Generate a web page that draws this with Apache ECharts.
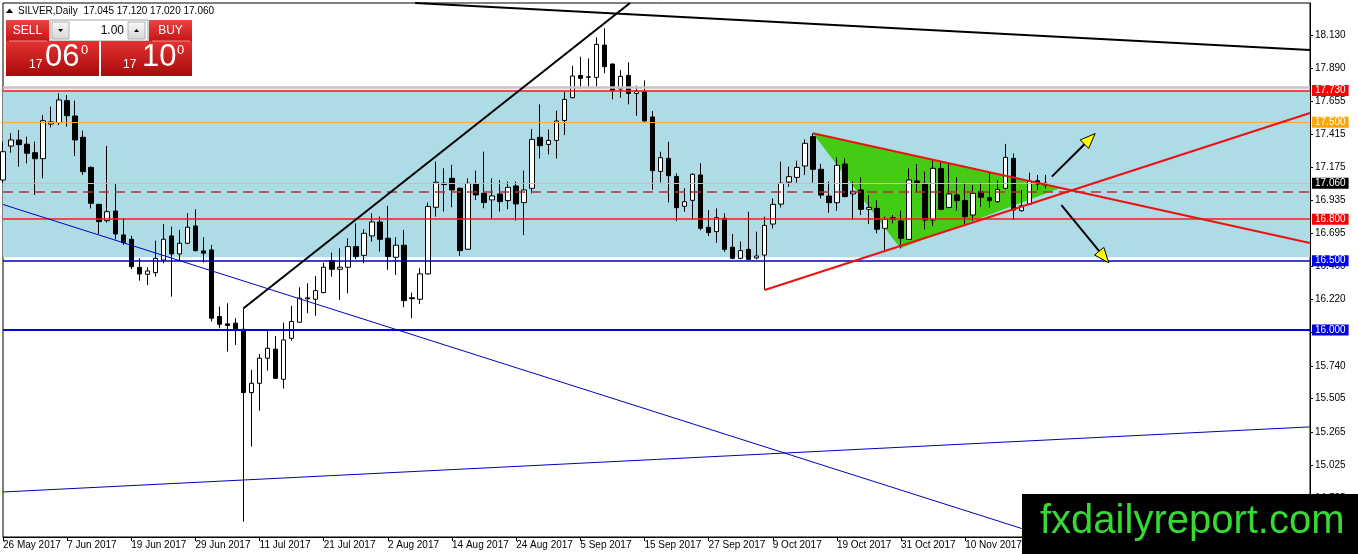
<!DOCTYPE html>
<html>
<head>
<meta charset="utf-8">
<title>SILVER,Daily</title>
<script src="https://cdn.jsdelivr.net/npm/echarts@6/dist/echarts.min.js"></script>
<style>
html,body{margin:0;padding:0;background:#fff;}
#SilverDaily{width:1358px;height:554px;}
</style>
</head>
<body>
<div id="SilverDaily"></div>
<script>
// daily bars 26 May 2017 .. 24 Nov 2017
var open = [17.083,17.328,17.372,17.341,17.28,17.237,17.487,17.497,17.656,17.545,
	17.391,17.174,16.907,16.789,16.859,16.686,16.655,16.452,16.402,16.414,
	16.505,16.679,16.549,16.626,16.751,16.571,16.578,16.097,16.044,16.049,
	16.005,15.548,15.615,15.796,15.861,15.644,15.94,16.056,16.225,16.222,
	16.27,16.501,16.438,16.453,16.602,16.539,16.679,16.78,16.662,16.525,
	16.612,16.232,16.222,16.405,16.886,17.059,17.095,17.023,16.583,17.054,
	16.987,16.939,16.982,16.934,17.04,16.92,17.023,17.391,17.34,17.369,
	17.513,17.677,17.838,17.824,17.824,18.057,17.92,17.74,17.838,17.708,
	17.72,17.538,17.145,17.239,17.109,16.893,16.936,17.119,16.741,16.71,
	16.806,16.597,16.517,16.582,16.52,16.541,16.765,16.909,17.068,17.102,
	17.184,17.396,17.16,16.967,16.919,17.198,16.982,17.011,16.871,16.878,
	16.734,16.81,16.787,16.654,17.076,17.054,16.794,17.165,16.885,16.975,
	16.934,16.83,16.999,16.955,16.926,17.023,17.239,16.861,16.909,17.078,
	17.045];
var high = [17.36,17.42,17.444,17.396,17.36,17.552,17.612,17.709,17.697,17.656,
	17.439,17.18,16.91,17.329,17.054,16.806,16.68,16.517,16.452,16.645,
	16.765,16.746,16.722,16.843,16.872,16.669,16.614,16.169,16.193,16.085,
	16.157,15.712,15.827,16.005,15.957,16.053,16.174,16.308,16.337,16.39,
	16.486,16.559,16.59,16.662,16.77,16.727,16.843,16.819,16.896,16.669,
	16.722,16.27,16.446,16.92,17.216,17.168,17.192,17.03,17.095,17.151,
	17.288,17.095,17.083,17.071,17.071,17.151,17.451,17.629,17.448,17.583,
	17.72,17.908,17.973,17.961,18.113,18.178,17.925,17.877,17.932,17.764,
	17.802,17.581,17.287,17.359,17.131,17.023,17.131,17.203,16.866,16.878,
	16.842,16.693,16.638,16.854,16.71,16.818,16.95,17.215,17.179,17.222,
	17.376,17.42,17.2,17.071,17.246,17.239,17.071,17.102,16.974,16.938,
	16.818,16.83,16.861,17.167,17.198,17.143,17.222,17.222,17.203,17.102,
	17.064,17.047,17.064,17.136,17.083,17.343,17.275,17.011,17.136,17.119,
	17.12];
var low = [17.061,17.28,17.179,17.203,16.975,17.095,17.463,17.48,17.468,17.256,
	17.12,16.878,16.693,16.775,16.655,16.614,16.438,16.356,16.325,16.385,
	16.481,16.241,16.494,16.62,16.566,16.487,16.061,16.012,15.844,15.892,
	14.616,15.158,15.418,15.707,15.645,15.577,15.923,16.053,16.121,16.102,
	16.265,16.385,16.217,16.265,16.511,16.482,16.638,16.566,16.434,16.398,
	16.164,16.085,16.188,16.4,16.819,16.855,16.886,16.535,16.578,16.939,
	16.879,16.8,16.855,16.872,16.79,16.686,16.986,17.239,17.268,17.239,
	17.408,17.672,17.74,17.757,17.759,17.853,17.665,17.677,17.629,17.547,
	17.504,17.013,17.066,16.921,16.787,16.854,16.794,16.72,16.678,16.63,
	16.565,16.51,16.51,16.505,16.51,16.289,16.734,16.885,17.035,17.064,
	17.119,17.064,16.95,16.847,16.861,16.958,16.799,16.83,16.765,16.698,
	16.573,16.77,16.589,16.65,16.991,16.727,16.751,16.866,16.878,16.861,
	16.751,16.789,16.89,16.885,16.919,17.015,16.794,16.854,16.902,17.011,
	17.02];
var close = [17.287,17.372,17.338,17.276,17.237,17.511,17.502,17.661,17.547,17.372,
	17.143,16.915,16.782,16.854,16.693,16.63,16.457,16.404,16.426,16.517,
	16.655,16.549,16.626,16.742,16.573,16.554,16.085,16.041,16.032,16.0,
	15.548,15.615,15.796,15.868,15.651,15.928,16.061,16.229,16.232,16.284,
	16.453,16.438,16.453,16.602,16.53,16.698,16.78,16.655,16.53,16.612,
	16.212,16.226,16.405,16.891,17.067,17.05,17.011,16.573,17.059,16.975,
	16.92,16.968,16.927,17.03,16.91,17.011,17.376,17.331,17.369,17.509,
	17.665,17.834,17.817,17.828,18.062,17.901,17.73,17.831,17.708,17.723,
	17.509,17.15,17.244,17.114,16.883,16.926,17.124,16.734,16.703,16.811,
	16.582,16.517,16.573,16.51,16.534,16.755,16.907,17.059,17.107,17.174,
	17.348,17.16,16.974,16.919,17.189,16.963,17.001,16.871,16.885,16.727,
	16.799,16.797,16.662,17.083,17.059,16.794,17.167,16.871,16.982,16.934,
	16.818,16.987,16.958,16.934,17.015,17.246,16.866,16.897,17.076,17.054,
	17.06];

var firstDay = [2017, 4, 26];     // 26 May 2017
var slotCount = 164;              // bars plus the empty shift area on the right
var labelStep = 8;
var lastLabelSlot = 120;

var yTicks = [18.130,17.890,17.655,17.415,17.175,16.935,16.695,16.460,16.220,15.980,15.740,15.505,15.265,15.025,14.785];
var yMin = 14.505, yMax = 18.361;

// horizontal levels with price boxes
var levelPrices = [17.73, 17.50, 17.06, 16.80, 16.50, 16.00];
var levelLabels = ['17.730','17.500','17.060','16.800','16.500','16.000'];
var dashedLevel = 17.005;
var silverLevel = 17.748;
var zoneTop = 17.735, zoneBottom = 16.525;

// drawn objects, [bar index, price]
var resistanceLine = [[51.4, 18.361], [163, 18.022]];
var channelLine = [[30, 16.157], [78.2, 18.361]];
var fallingLine = [[0, 16.906], [135, 14.42]];
var risingLine = [[0, 14.83], [163, 15.30]];
var triangleTop = [[101, 17.42], [163, 16.628]];
var triangleBottom = [[95, 16.289], [163, 17.567]];
var triangleFill = [[101, 17.42], [111.9, 16.59], [131.8, 17.023]];
var arrows = [[130.8, 17.107, 136.2, 17.418], [132.0, 16.901, 137.9, 16.485]];

var header = 'SILVER,Daily  17.045 17.120 17.020 17.060';

var months = ['Jan','Feb','Mar','Apr','May','Jun','Jul','Aug','Sep','Oct','Nov','Dec'];
var dates = [];
var d = new Date(firstDay[0], firstDay[1], firstDay[2]);
while (dates.length < slotCount) {
	if (d.getDay() !== 0 && d.getDay() !== 6) {
		dates.push(d.getDate() + ' ' + months[d.getMonth()] + ' ' + d.getFullYear());
	}
	d.setDate(d.getDate() + 1);
}

var candles = open.map(function (o, i) {
	return [o, close[i], low[i], high[i]];
});

var levelStyles = [
	{line: '#ff1a1a', box: '#ff0000', w: 1.5},
	{line: '#f0b030', box: '#ffa500', w: 1},
	{line: '#c8bcbc', box: '#000000', w: 1},
	{line: '#ff1a1a', box: '#ff0000', w: 1.5},
	{line: '#0000c8', box: '#0000ff', w: 1.5},
	{line: '#0000e0', box: '#0000e0', w: 2}
];

var levelData = levelPrices.map(function (p, i) {
	return {
		yAxis: p,
		lineStyle: {color: levelStyles[i].line, width: levelStyles[i].w, type: 'solid'},
		label: {
			show: true, position: 'end', distance: 2,
			formatter: levelLabels[i],
			color: '#fff', backgroundColor: levelStyles[i].box,
			padding: [1, 3, 0, 3], fontSize: 10, fontFamily: 'Liberation Sans'
		}
	};
});
levelData.push({yAxis: silverLevel, lineStyle: {color: '#c4c4c4', width: 2.5, type: 'solid'}, label: {show: false}});
levelData.push({yAxis: dashedLevel, lineStyle: {color: '#b83030', width: 1.5, type: [10, 6]}, label: {show: false}});

function trend(name, pts, color, width) {
	return {
		name: name, type: 'line', xAxisIndex: 1, data: pts,
		showSymbol: false, silent: true, z: 6,
		lineStyle: {color: color, width: width}
	};
}

var redGrad = function (a, b) {
	return new echarts.graphic.LinearGradient(0, 0, 0, 1, [{offset: 0, color: a}, {offset: 1, color: b}]);
};
var grayGrad = new echarts.graphic.LinearGradient(0, 0, 0, 1, [{offset: 0, color: '#f8f8f8'}, {offset: 1, color: '#d6d6d6'}]);

var myChart = echarts.init(document.getElementById('SilverDaily'));

var showSlot = function (i) {
	return i % labelStep === 0 && i <= lastLabelSlot;
};

var option = {
	animation: false,
	backgroundColor: '#fff',
	textStyle: {fontFamily: 'Liberation Sans'},
	grid: {left: 3, right: 48, top: 3, bottom: 17, show: true, borderColor: '#000', borderWidth: 1},
	xAxis: [{
		type: 'category',
		data: dates,
		boundaryGap: false,
		axisLine: {onZero: false, lineStyle: {color: '#000'}},
		axisTick: {interval: showSlot, length: 4, lineStyle: {color: '#000'}},
		axisLabel: {interval: showSlot, align: 'left', margin: 3, fontSize: 10, color: '#000'},
		splitLine: {show: false}
	}, {
		type: 'value', min: 0, max: slotCount - 1, show: false,
		axisLine: {onZero: false}
	}],
	yAxis: {
		type: 'value',
		position: 'right',
		min: yMin,
		max: yMax,
		axisLine: {show: true, onZero: false, lineStyle: {color: '#000'}},
		axisTick: {show: true, inside: false, length: 3, customValues: yTicks, lineStyle: {color: '#000'}},
		axisLabel: {
			customValues: yTicks, margin: 5, fontSize: 10, color: '#000',
			formatter: function (v) { return v.toFixed(3); }
		},
		splitLine: {show: false}
	},
	series: [
		{
			name: 'zone', type: 'line', data: [], z: 1, silent: true,
			markArea: {
				silent: true,
				itemStyle: {color: '#aedce6'},
				data: [[{yAxis: zoneTop}, {yAxis: zoneBottom}]]
			}
		},
		{
			name: 'triangle', type: 'custom', xAxisIndex: 1, z: 2, silent: true,
			data: [triangleFill[0]],
			renderItem: function (params, api) {
				var pts = triangleFill.map(function (p) { return api.coord(p); });
				return {type: 'polygon', shape: {points: pts}, style: {fill: '#44cc14'}};
			}
		},
		{
			name: 'SILVER', type: 'candlestick', data: candles, z: 3,
			barWidth: 5,
			emphasis: {disabled: true},
			itemStyle: {color: '#fff', color0: '#000', borderColor: '#000', borderColor0: '#000', borderWidth: 1}
		},
		{
			name: 'levels', type: 'line', data: [], z: 4, silent: true,
			markLine: {silent: true, symbol: 'none', data: levelData}
		},
		trend('resistance', resistanceLine, '#000', 2),
		trend('channel', channelLine, '#000', 2),
		trend('falling', fallingLine, '#0000c0', 1),
		trend('rising', risingLine, '#0000c0', 1),
		trend('triTop', triangleTop, '#ee1111', 2),
		trend('triBottom', triangleBottom, '#ee1111', 2),
		{
			name: 'arrows', type: 'custom', xAxisIndex: 1, z: 7, silent: true,
			data: arrows,
			renderItem: function (params, api) {
				var a = api.coord([api.value(0), api.value(1)]);
				var b = api.coord([api.value(2), api.value(3)]);
				var dx = b[0] - a[0], dy = b[1] - a[1];
				var len = Math.sqrt(dx * dx + dy * dy);
				var ux = dx / len, uy = dy / len;
				var hl = 15, hw = 6;
				var bx = b[0] - ux * hl, by = b[1] - uy * hl;
				return {
					type: 'group',
					children: [
						{type: 'line', shape: {x1: a[0], y1: a[1], x2: bx, y2: by}, style: {stroke: '#000', lineWidth: 2}},
						{type: 'polygon', shape: {points: [b, [bx - uy * hw, by + ux * hw], [bx + uy * hw, by - ux * hw]]},
							style: {fill: '#ffff00', stroke: '#000', lineWidth: 1}}
					]
				};
			}
		}
	],
	graphic: [
		// header
		{type: 'polygon', z: 100, shape: {points: [[6, 13], [9.5, 8.5], [13, 13]]}, style: {fill: '#000'}},
		{type: 'text', z: 100, style: {x: 18, y: 11, text: header, fill: '#000', font: '10px "Liberation Sans"', verticalAlign: 'middle'}},
		// one click trading panel
		{type: 'rect', z: 100, shape: {x: 6, y: 20, width: 43, height: 21}, style: {fill: redGrad('#e84444', '#c81414')}},
		{type: 'text', z: 101, style: {x: 27.5, y: 30.5, text: 'SELL', fill: '#fff', font: '12px "Liberation Sans"', align: 'center', verticalAlign: 'middle'}},
		{type: 'rect', z: 100, shape: {x: 50, y: 20, width: 98, height: 21}, style: {fill: '#fff', stroke: '#a0a0a0', lineWidth: 1}},
		{type: 'rect', z: 101, shape: {x: 52, y: 22, width: 17, height: 17}, style: {fill: grayGrad, stroke: '#b0b0b0', lineWidth: 1}},
		{type: 'polygon', z: 102, shape: {points: [[58, 29], [63, 29], [60.5, 32]]}, style: {fill: '#000'}},
		{type: 'text', z: 101, style: {x: 124, y: 30.5, text: '1.00', fill: '#000', font: '12px "Liberation Sans"', align: 'right', verticalAlign: 'middle'}},
		{type: 'rect', z: 101, shape: {x: 128, y: 22, width: 17, height: 17}, style: {fill: grayGrad, stroke: '#b0b0b0', lineWidth: 1}},
		{type: 'polygon', z: 102, shape: {points: [[134, 32], [139, 32], [136.5, 29]]}, style: {fill: '#000'}},
		{type: 'rect', z: 100, shape: {x: 149, y: 20, width: 43, height: 21}, style: {fill: redGrad('#e84444', '#c81414')}},
		{type: 'text', z: 101, style: {x: 170.5, y: 30.5, text: 'BUY', fill: '#fff', font: '12px "Liberation Sans"', align: 'center', verticalAlign: 'middle'}},
		{type: 'rect', z: 100, shape: {x: 6, y: 41, width: 93, height: 35}, style: {fill: redGrad('#e43232', '#a80a0a')}},
		{type: 'rect', z: 100, shape: {x: 101, y: 41, width: 91, height: 35}, style: {fill: redGrad('#e43232', '#a80a0a')}},
		{type: 'line', z: 101, shape: {x1: 9, y1: 41, x2: 47, y2: 41}, style: {stroke: '#f08a8a', lineWidth: 1}},
		{type: 'line', z: 101, shape: {x1: 152, y1: 41, x2: 190, y2: 41}, style: {stroke: '#f08a8a', lineWidth: 1}},
		{type: 'text', z: 101, style: {x: 29, y: 71, text: '17', fill: '#fff', font: '12px "Liberation Sans"', verticalAlign: 'bottom'}},
		{type: 'text', z: 101, style: {x: 45, y: 73, text: '06', fill: '#fff', font: '31px "Liberation Sans"', verticalAlign: 'bottom'}},
		{type: 'text', z: 101, style: {x: 81, y: 44, text: '0', fill: '#fff', font: '13px "Liberation Sans"', verticalAlign: 'top'}},
		{type: 'text', z: 101, style: {x: 123, y: 71, text: '17', fill: '#fff', font: '12px "Liberation Sans"', verticalAlign: 'bottom'}},
		{type: 'text', z: 101, style: {x: 142, y: 73, text: '10', fill: '#fff', font: '31px "Liberation Sans"', verticalAlign: 'bottom'}},
		{type: 'text', z: 101, style: {x: 177, y: 44, text: '0', fill: '#fff', font: '13px "Liberation Sans"', verticalAlign: 'top'}},
		// watermark
		{type: 'rect', z: 100, shape: {x: 1022, y: 494, width: 336, height: 60}, style: {fill: '#000'}},
		{type: 'text', z: 101, style: {x: 1040, y: 522, text: 'fxdailyreport.com', fill: '#36d936', font: '40px "Liberation Sans"', verticalAlign: 'middle'}}
	]
};

myChart.setOption(option);
</script>
</body>
</html>
